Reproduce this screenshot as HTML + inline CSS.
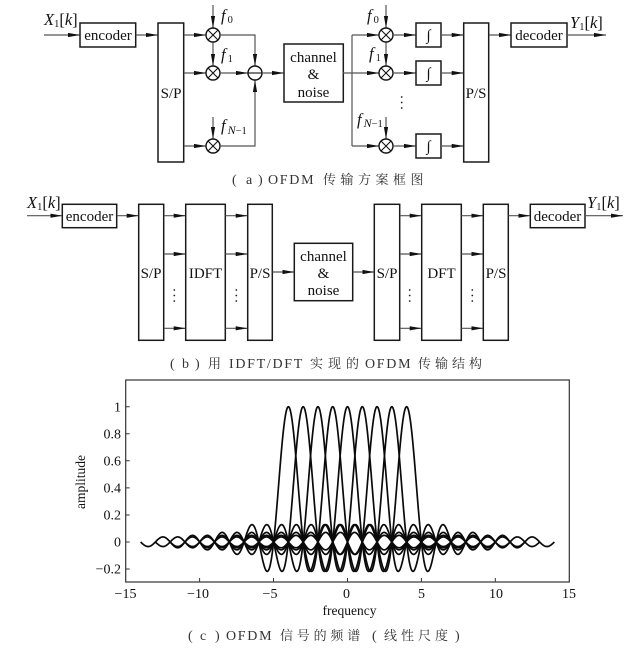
<!DOCTYPE html>
<html>
<head>
<meta charset="utf-8">
<style>
html,body{margin:0;padding:0;background:#fff;width:641px;height:648px;overflow:hidden}
svg{display:block}
text{font-family:"Liberation Serif","Noto Serif CJK SC",serif;fill:#111}
.b{fill:#fff;stroke:#1a1a1a;stroke-width:1.5}
.l{fill:none;stroke:#555;stroke-width:1.2}
.a{marker-end:url(#ah)}
.t{font-size:15px;text-anchor:middle}
.m{fill:#fff;stroke:#111;stroke-width:1.4}
.x{stroke:#111;stroke-width:1.1}
.i{font-size:16.5px;font-style:italic}
.s{font-size:10.5px;font-style:normal}
.si{font-size:12px;font-style:italic}
.c{font-size:13px;letter-spacing:4.5px;fill:#333}
.e{font-size:14px;letter-spacing:1.7px;fill:#333}
.k{font-size:14px}
.d{fill:#222}
</style>
</head>
<body>
<svg xmlns="http://www.w3.org/2000/svg" width="641" height="648" viewBox="0 0 641 648">
<defs>
<marker id="ah" markerUnits="userSpaceOnUse" markerWidth="13" markerHeight="6" refX="12" refY="3" orient="auto">
<path d="M0,0.9 L12,3 L0,5.1 Z" fill="#111"/>
</marker>
<g id="mix">
<circle r="7" class="m"/>
<path d="M-5,-5 L5,5 M-5,5 L5,-5" class="x"/>
</g>
<g id="dots"><circle cx="0" cy="0" r="0.9" class="d"/><circle cx="0" cy="5.500" r="0.9" class="d"/><circle cx="0" cy="11" r="0.9" class="d"/></g>
</defs>

<!-- (a) -->
<path class="l a" d="M44,35 H80"/>
<rect class="b" x="80" y="23" width="55.700" height="24"/>
<text class="t" x="108" y="40">encoder</text>
<path class="l a" d="M136,35 H158"/>
<rect class="b" x="158" y="23" width="25.700" height="139"/>
<text class="t" x="171" y="98">S/P</text>
<path class="l a" d="M184,35 H206"/>
<path class="l a" d="M184,73 H206"/>
<path class="l a" d="M184,146 H206"/>
<path class="l a" d="M213,5 V28"/>
<path class="l a" d="M213,42 V66"/>
<path class="l a" d="M213,117 V139"/>
<use href="#mix" x="213" y="35"/>
<use href="#mix" x="213" y="73"/>
<use href="#mix" x="213" y="146"/>
<path class="l a" d="M220,73 H248"/>
<path class="l a" d="M220,35 H255 V66"/>
<path class="l a" d="M220,146 H255 V80"/>
<circle cx="255" cy="73" r="7" class="m"/>
<path d="M248,73 H262" class="x"/>
<path class="l a" d="M262,73 H284"/>
<rect class="b" x="284" y="44" width="59.300" height="58"/>
<text class="t" x="313.500" y="62">channel</text>
<text class="t" x="313.500" y="79">&amp;</text>
<text class="t" x="313.500" y="97">noise</text>
<path class="l" d="M352,35 V146 M343,73 H352"/>
<path class="l a" d="M352,35 H379"/>
<path class="l a" d="M352,73 H379"/>
<path class="l a" d="M352,146 H379"/>
<path class="l a" d="M386,5 V28"/>
<path class="l a" d="M386,42 V66"/>
<path class="l a" d="M386,117 V139"/>
<use href="#mix" x="386" y="35"/>
<use href="#mix" x="386" y="73"/>
<use href="#mix" x="386" y="146"/>
<path class="l a" d="M393,35 H416"/>
<path class="l a" d="M393,73 H416"/>
<path class="l a" d="M393,146 H416"/>
<rect class="b" x="416" y="23" width="25" height="24"/>
<rect class="b" x="416" y="61" width="25" height="24"/>
<rect class="b" x="416" y="134" width="25" height="24"/>
<text class="t" x="428.500" y="40">∫</text>
<text class="t" x="428.500" y="78">∫</text>
<text class="t" x="428.500" y="151">∫</text>
<path class="l a" d="M441,35 H463.700"/>
<path class="l a" d="M441,73 H463.700"/>
<path class="l a" d="M441,146 H463.700"/>
<use href="#dots" x="401.700" y="97"/>
<rect class="b" x="463.700" y="23" width="25" height="139"/>
<text class="t" x="476" y="98">P/S</text>
<path class="l a" d="M489,35 H511"/>
<rect class="b" x="511" y="23" width="56" height="24"/>
<text class="t" x="539" y="40">decoder</text>
<path class="l a" d="M567,35 H606"/>

<text class="i" x="44" y="25">X<tspan class="s" dy="2">1</tspan><tspan dy="-2" font-style="normal">[</tspan>k<tspan font-style="normal">]</tspan></text>
<text class="i" x="221" y="21">f<tspan class="s" dx="2" dy="2">0</tspan></text>
<text class="i" x="221" y="60">f<tspan class="s" dx="2" dy="2">1</tspan></text>
<text class="i" x="221" y="131">f<tspan class="si" dx="2" dy="3">N</tspan><tspan class="s">−1</tspan></text>
<text class="i" x="367" y="21">f<tspan class="s" dx="2" dy="2">0</tspan></text>
<text class="i" x="369" y="59">f<tspan class="s" dx="2" dy="2">1</tspan></text>
<text class="i" x="357" y="125">f<tspan class="si" dx="2" dy="2">N</tspan><tspan class="s">−1</tspan></text>
<text class="i" x="570" y="28">Y<tspan class="s" dy="2">1</tspan><tspan dy="-2" font-style="normal">[</tspan>k<tspan font-style="normal">]</tspan></text>
<text class="e" x="232" y="184">(</text><text class="e" x="246" y="184">a</text><text class="e" x="258" y="184">)</text>
<text class="e" x="268" y="184">OFDM</text>
<text class="c" x="323" y="184">传输方案框图</text>

<!-- (b) -->
<path class="l a" d="M27,215.700 H62.300"/>
<rect class="b" x="62.300" y="204.300" width="54.400" height="23.400"/>
<text class="t" x="89.500" y="221">encoder</text>
<path class="l a" d="M117,215.700 H138.700"/>
<rect class="b" x="138.700" y="204.300" width="25" height="136"/>
<text class="t" x="151" y="278">S/P</text>
<path class="l a" d="M164,215.700 H185.700"/>
<path class="l a" d="M164,254 H185.700"/>
<path class="l a" d="M164,328.300 H185.700"/>
<use href="#dots" x="174.300" y="290"/>
<rect class="b" x="185.700" y="204.300" width="39.600" height="136"/>
<text class="t" x="205.500" y="278">IDFT</text>
<path class="l a" d="M225.500,215.700 H247.700"/>
<path class="l a" d="M225.500,254 H247.700"/>
<path class="l a" d="M225.500,328.300 H247.700"/>
<use href="#dots" x="236.300" y="290"/>
<rect class="b" x="247.700" y="204.300" width="24.600" height="136"/>
<text class="t" x="260" y="278">P/S</text>
<path class="l a" d="M272.500,272 H294.300"/>
<rect class="b" x="294.300" y="243.300" width="58.400" height="57.400"/>
<text class="t" x="323.500" y="261">channel</text>
<text class="t" x="323.500" y="278">&amp;</text>
<text class="t" x="323.500" y="295">noise</text>
<path class="l a" d="M353,272 H374.300"/>
<rect class="b" x="374.300" y="204.300" width="25.400" height="136"/>
<text class="t" x="387" y="278">S/P</text>
<path class="l a" d="M400,215.700 H421.700"/>
<path class="l a" d="M400,254 H421.700"/>
<path class="l a" d="M400,328.300 H421.700"/>
<use href="#dots" x="409.700" y="290"/>
<rect class="b" x="421.700" y="204.300" width="39.600" height="136"/>
<text class="t" x="441.500" y="278">DFT</text>
<path class="l a" d="M461.500,215.700 H483.300"/>
<path class="l a" d="M461.500,254 H483.300"/>
<path class="l a" d="M461.500,328.300 H483.300"/>
<use href="#dots" x="472.300" y="290"/>
<rect class="b" x="483.300" y="204.300" width="25" height="136"/>
<text class="t" x="496" y="278">P/S</text>
<path class="l a" d="M508.500,215.700 H530.300"/>
<rect class="b" x="530.300" y="204.300" width="54.700" height="23.400"/>
<text class="t" x="557.500" y="221">decoder</text>
<path class="l a" d="M585,215.700 H623"/>

<text class="i" x="27" y="208">X<tspan class="s" dy="2">1</tspan><tspan dy="-2" font-style="normal">[</tspan>k<tspan font-style="normal">]</tspan></text>
<text class="i" x="587" y="208">Y<tspan class="s" dy="2">1</tspan><tspan dy="-2" font-style="normal">[</tspan>k<tspan font-style="normal">]</tspan></text>
<text class="e" x="170" y="368">(</text><text class="e" x="182" y="368">b</text><text class="e" x="195" y="368">)</text>
<text class="c" x="208" y="368">用</text>
<text class="e" x="229" y="368">IDFT/DFT</text>
<text class="c" x="310" y="368" style="letter-spacing:5px">实现的</text>
<text class="e" x="365" y="368">OFDM</text>
<text class="c" x="418" y="368" style="letter-spacing:4px">传输结构</text>

<!-- (c) -->
<g id="curves" fill="none" stroke="#0a0a0a" stroke-width="1.7" stroke-linejoin="round"></g>
<rect x="125.700" y="380" width="443.600" height="202" fill="none" stroke="#333" stroke-width="1.2"/>
<path d="M125.700,406.700 h4 M125.700,433.800 h4 M125.700,460.800 h4 M125.700,487.900 h4 M125.700,515 h4 M125.700,542 h4 M125.700,569 h4 M199.600,582 v-4 M273.500,582 v-4 M347.500,582 v-4 M421.400,582 v-4 M495.300,582 v-4" stroke="#333" stroke-width="1" fill="none"/>
<g text-anchor="end">
<text class="k" x="121" y="411.500">1</text>
<text class="k" x="121" y="438.500">0.8</text>
<text class="k" x="121" y="465.500">0.6</text>
<text class="k" x="121" y="492.500">0.4</text>
<text class="k" x="121" y="519.500">0.2</text>
<text class="k" x="121" y="546.500">0</text>
<text class="k" x="121" y="573.500">−0.2</text>
</g>
<g text-anchor="middle">
<text class="k" x="125.500" y="598">−15</text>
<text class="k" x="198" y="598">−10</text>
<text class="k" x="270" y="598">−5</text>
<text class="k" x="346.500" y="598">0</text>
<text class="k" x="421.500" y="598">5</text>
<text class="k" x="496" y="598">10</text>
<text class="k" x="569" y="598">15</text>
<text x="349.500" y="615" font-size="13.500">frequency</text>
<text transform="translate(85,482) rotate(-90)" font-size="13.500">amplitude</text>
</g>
<text class="e" x="188" y="640">(</text><text class="e" x="200" y="640">c</text><text class="e" x="215" y="640">)</text>
<text class="e" x="226" y="640">OFDM</text>
<text class="c" x="280" y="640" style="letter-spacing:3.8px">信号的频谱</text>
<text class="e" x="372" y="640">(</text>
<text class="c" x="384" y="640" style="letter-spacing:4px">线性尺度</text>
<text class="e" x="455" y="640">)</text>

<script>
(function(){
  var g=document.getElementById('curves'),NS='http://www.w3.org/2000/svg';
  for(var k=-4;k<=4;k++){
    var d='';
    for(var i=0;i<=1000;i++){
      var u=-10+i*0.02,v=Math.abs(u)<1e-9?1:Math.sin(Math.PI*u)/(Math.PI*u);
      var X=347.5+14.78*(k+u),Y=542-135.3*v;
      d+=(i?'L':'M')+X.toFixed(2)+','+Y.toFixed(2);
    }
    var p=document.createElementNS(NS,'path');
    p.setAttribute('d',d);
    g.appendChild(p);
  }
})();
</script>
</svg>
</body>
</html>
